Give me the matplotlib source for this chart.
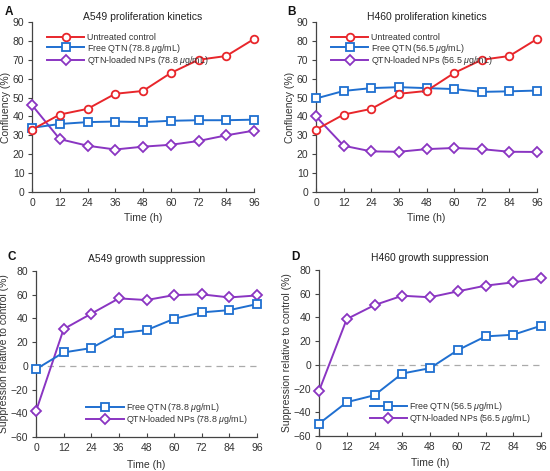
import matplotlib
matplotlib.use("Agg")
import matplotlib.pyplot as plt

plt.rcParams['font.family'] = ['Liberation Sans', 'DejaVu Sans']
plt.rcParams['mathtext.fontset'] = 'custom'
plt.rcParams['mathtext.it'] = 'Liberation Sans:italic'
plt.rcParams['mathtext.rm'] = 'Liberation Sans'

time_h = [0, 12, 24, 36, 48, 60, 72, 84, 96]

a_control = [33, 41, 44, 52, 53.5, 63, 70, 72, 81]
a_free = [34, 36, 37, 37.3, 37, 37.7, 38, 38, 38.3]
a_nps = [46, 28, 24.5, 22.5, 24, 25, 27, 30, 32.5]

b_control = [33, 41, 44, 52, 53.5, 63, 70, 72, 81]
b_free = [49.5, 53.5, 55, 55.5, 55, 54.5, 53, 53.3, 53.7]
b_nps = [40, 24.5, 21.5, 21.3, 22.7, 23.3, 22.7, 21.3, 21.2]

c_free = [-2.8, 11.3, 15, 27.6, 30.1, 39.7, 45.1, 47, 52.1]
c_nps = [-38.3, 31, 44, 56.9, 55.5, 59.7, 60.3, 57.7, 59.4]

d_free = [-49.6, -31.5, -25.6, -7.3, -2.8, 12.4, 24, 25.4, 33]
d_nps = [-22, 38.6, 50.4, 58.3, 57, 62, 66.8, 69.6, 73.2]

RED = '#E8262B'
BLUE = '#1F6FD0'
PURPLE = '#8A35C2'
TXT = '#333333'

fig = plt.figure(figsize=(5.5, 4.71), dpi=100)

FS = 7.5
LFS = 6.4

def style(ax, ylim, yticks, ylabel, title, tpad, xlpad):
    ax.set_xlim(0, 96)
    ax.set_ylim(*ylim)
    ax.set_xticks(time_h)
    ax.set_yticks(yticks)
    ax.spines['top'].set_visible(False)
    ax.spines['right'].set_visible(False)
    for s in ('left', 'bottom'):
        ax.spines[s].set_color('#444444')
        ax.spines[s].set_linewidth(0.9)
    ax.tick_params(axis='x', direction='in', length=3, width=0.8, colors='#444444', labelcolor=TXT, labelsize=FS, pad=4)
    ax.tick_params(axis='y', direction='out', length=3, width=0.8, colors='#444444', labelcolor=TXT, labelsize=FS, pad=2.5)
    ax.set_xlabel('Time (h)', fontsize=FS, color=TXT, labelpad=xlpad)
    ax.set_ylabel(ylabel, fontsize=FS, color=TXT, labelpad=1)
    ax.set_title(title, fontsize=FS, color='#222222', pad=tpad)

mk = dict(markerfacecolor='white', markersize=5.5, markeredgewidth=1.3, linewidth=1.4, clip_on=False)
leg_kw = dict(frameon=False, fontsize=LFS, handlelength=4.2, handletextpad=0.25, labelspacing=-0.05,
              borderaxespad=0, borderpad=0, labelcolor=TXT)

def top_panel(rect, control, free, nps, dose, title):
    ax = fig.add_axes(rect)
    l1, = ax.plot(time_h, control, color=RED, marker='o', markeredgecolor=RED, zorder=5, label='Untreated control', **mk)
    l2, = ax.plot(time_h, free, color=BLUE, marker='s', markeredgecolor=BLUE, zorder=4, label='Free QTN (' + dose + r' $\mu$g/mL)', **mk)
    l3, = ax.plot(time_h, nps, color=PURPLE, marker='D', markeredgecolor=PURPLE, zorder=3, label='QTN-loaded NPs (' + dose + r' $\mu$g/mL)', **mk)
    style(ax, (0, 90), range(0, 91, 10), 'Confluency (%)', title, 1.5, 4)
    ax.legend(handles=[l1, l2, l3], loc='upper left', bbox_to_anchor=(0.068, 0.935), **leg_kw)
    return ax

def bottom_panel(rect, free, nps, dose, title):
    ax = fig.add_axes(rect)
    ax.axhline(0, color='#AAAAAA', linestyle=(0, (5, 4)), linewidth=0.9, zorder=1)
    l2, = ax.plot(time_h, free, color=BLUE, marker='s', markeredgecolor=BLUE, zorder=4, label='Free QTN (' + dose + r' $\mu$g/mL)', **mk)
    l3, = ax.plot(time_h, nps, color=PURPLE, marker='D', markeredgecolor=PURPLE, zorder=3, label='QTN-loaded NPs (' + dose + r' $\mu$g/mL)', **mk)
    style(ax, (-60, 80), range(-60, 81, 20), 'Suppression relative to control (%)', title, 6.5, 5)
    ax.legend(handles=[l2, l3], loc='lower left', bbox_to_anchor=(0.228, 0.065), **leg_kw)
    return ax

W, H = 550.0, 471.0
def rect(l, r, t, b):
    return [l / W, 1 - b / H, (r - l) / W, (b - t) / H]

top_panel(rect(32, 254, 22, 192), a_control, a_free, a_nps, '78.8', 'A549 proliferation kinetics')
top_panel(rect(316, 537, 22, 192), b_control, b_free, b_nps, '56.5', 'H460 proliferation kinetics')
bottom_panel(rect(36, 257, 271, 437), c_free, c_nps, '78.8', 'A549 growth suppression')
bottom_panel(rect(319, 541, 270, 436), d_free, d_nps, '56.5', 'H460 growth suppression')

for letter, x, y in [('A', 5, 12), ('B', 287, 12), ('C', 8, 257), ('D', 291, 257)]:
    fig.text(x / W, 1 - y / H, letter, fontsize=8.5, fontweight='bold', color='#111111', va='center', ha='left')

fig.savefig('out.png', dpi=100)
